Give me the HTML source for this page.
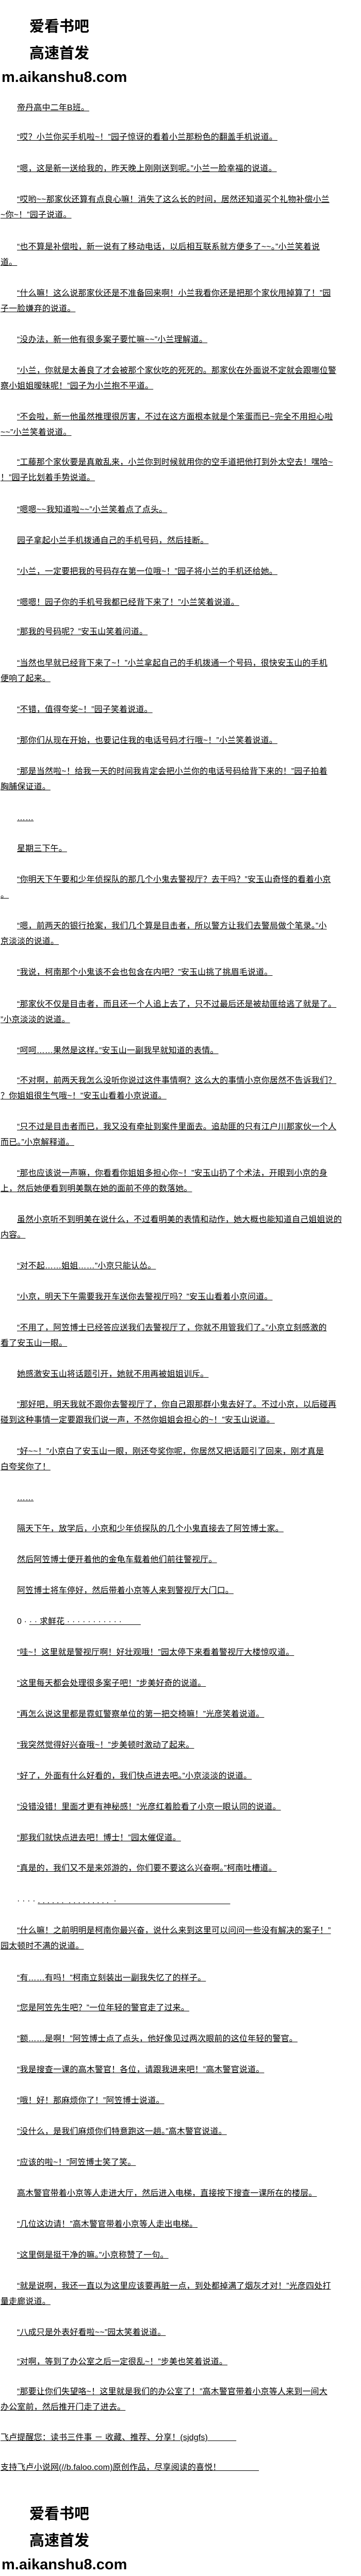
<!DOCTYPE html>
<html>
<head>
<meta charset="utf-8">
<style>
html,body{margin:0;padding:0;background:#fff;}
body{width:700px;height:5040px;position:relative;overflow:hidden;font-family:"Liberation Sans","Noto Sans CJK SC",sans-serif;color:#000;}
.p{position:absolute;left:1px;font-size:16px;line-height:30px;white-space:nowrap;text-decoration:underline;text-indent:32px;letter-spacing:0.15px;}
.n{text-indent:0;}
.h{position:absolute;left:57px;font-family:"Noto Sans CJK SC",sans-serif;font-weight:700;font-size:29px;line-height:34px;white-space:nowrap;}
.u{position:absolute;left:3px;font-family:"Liberation Sans",sans-serif;font-weight:700;font-size:29px;line-height:34px;white-space:nowrap;}
</style>
</head>
<body>
<div class="h" style="top:32px">爱看书吧</div>
<div class="h" style="top:84px">高速首发</div>
<div class="u" style="top:133px">m.aikanshu8.com</div>

<div class="p" style="top:195px">帝丹高中二年B班。</div>
<div class="p" style="top:252px">“哎？小兰你买手机啦~！”园子惊讶的看着小兰那粉色的翻盖手机说道。</div>
<div class="p" style="top:313px">“嗯，这是新一送给我的，昨天晚上刚刚送到呢。”小兰一脸幸福的说道。</div>
<div class="p" style="top:373px">“哎哟~~那家伙还算有点良心嘛！消失了这么长的时间，居然还知道买个礼物补偿小兰<br>~你~！”园子说道。</div>
<div class="p" style="top:465px">“也不算是补偿啦，新一说有了移动电话，以后相互联系就方便多了~~。”小兰笑着说<br>道。</div>
<div class="p" style="top:555px">“什么嘛！这么说那家伙还是不准备回来啊！小兰我看你还是把那个家伙甩掉算了！”园<br>子一脸嫌弃的说道。</div>
<div class="p" style="top:645px">“没办法，新一他有很多案子要忙嘛~~”小兰理解道。</div>
<div class="p" style="top:705px">“小兰，你就是太善良了才会被那个家伙吃的死死的。那家伙在外面说不定就会跟哪位警<br>察小姐姐暧昧呢！”园子为小兰抱不平道。</div>
<div class="p" style="top:795px">“不会啦，新一他虽然推理很厉害，不过在这方面根本就是个笨蛋而已~完全不用担心啦<br>~~”小兰笑着说道。</div>
<div class="p" style="top:883px">“工藤那个家伙要是真敢乱来，小兰你到时候就用你的空手道把他打到外太空去！嘿哈~<br>！”园子比划着手势说道。</div>
<div class="p" style="top:975px">“嗯嗯~~我知道啦~~”小兰笑着点了点头。</div>
<div class="p" style="top:1035px">园子拿起小兰手机拨通自己的手机号码，然后挂断。</div>
<div class="p" style="top:1095px">“小兰，一定要把我的号码存在第一位哦~！”园子将小兰的手机还给她。</div>
<div class="p" style="top:1155px">“嗯嗯！园子你的手机号我都已经背下来了！”小兰笑着说道。</div>
<div class="p" style="top:1212px">“那我的号码呢？”安玉山笑着问道。</div>
<div class="p" style="top:1273px">“当然也早就已经背下来了~！”小兰拿起自己的手机拨通一个号码，很快安玉山的手机<br>便响了起来。</div>
<div class="p" style="top:1363px">“不错，值得夸奖~！”园子笑着说道。</div>
<div class="p" style="top:1423px">“那你们从现在开始，也要记住我的电话号码才行哦~！”小兰笑着说道。</div>
<div class="p" style="top:1483px">“那是当然啦~！给我一天的时间我肯定会把小兰你的电话号码给背下来的！”园子拍着<br>胸脯保证道。</div>
<div class="p" style="top:1573px">……</div>
<div class="p" style="top:1633px">星期三下午。</div>
<div class="p" style="top:1693px">“你明天下午要和少年侦探队的那几个小鬼去警视厅？去干吗？”安玉山奇怪的看着小京<br>。</div>
<div class="p" style="top:1783px">“嗯，前两天的银行抢案，我们几个算是目击者，所以警方让我们去警局做个笔录。”小<br>京淡淡的说道。</div>
<div class="p" style="top:1873px">“我说，柯南那个小鬼该不会也包含在内吧？”安玉山挑了挑眉毛说道。</div>
<div class="p" style="top:1935px">“那家伙不仅是目击者，而且还一个人追上去了，只不过最后还是被劫匪给逃了就是了。<br>”小京淡淡的说道。</div>
<div class="p" style="top:2025px">“呵呵……果然是这样。”安玉山一副我早就知道的表情。</div>
<div class="p" style="top:2083px">“不对啊，前两天我怎么没听你说过这件事情啊？这么大的事情小京你居然不告诉我们？<br>？你姐姐很生气哦~！”安玉山看着小京说道。</div>
<div class="p" style="top:2173px">“只不过是目击者而已，我又没有牵扯到案件里面去。追劫匪的只有江户川那家伙一个人<br>而已。”小京解释道。</div>
<div class="p" style="top:2263px">“那也应该说一声嘛，你看看你姐姐多担心你~！”安玉山扔了个术法，开眼到小京的身<br>上，然后她便看到明美飘在她的面前不停的数落她。</div>
<div class="p" style="top:2353px">虽然小京听不到明美在说什么，不过看明美的表情和动作，她大概也能知道自己姐姐说的<br>内容。</div>
<div class="p" style="top:2443px">“对不起……姐姐……”小京只能认怂。</div>
<div class="p" style="top:2503px">“小京，明天下午需要我开车送你去警视厅吗？”安玉山看着小京问道。</div>
<div class="p" style="top:2563px">“不用了，阿笠博士已经答应送我们去警视厅了，你就不用管我们了。”小京立刻感激的<br>看了安玉山一眼。</div>
<div class="p" style="top:2653px">她感激安玉山将话题引开，她就不用再被姐姐训斥。</div>
<div class="p" style="top:2712px">“那好吧，明天我就不跟你去警视厅了，你自己跟那群小鬼去好了。不过小京，以后碰再<br>碰到这种事情一定要跟我们说一声，不然你姐姐会担心的~！”安玉山说道。</div>
<div class="p" style="top:2803px">“好~~！”小京白了安玉山一眼，刚还夸奖你呢，你居然又把话题引了回来，刚才真是<br>白夸奖你了！</div>
<div class="p" style="top:2893px">……</div>
<div class="p" style="top:2953px">隔天下午，放学后，小京和少年侦探队的几个小鬼直接去了阿笠博士家。</div>
<div class="p" style="top:3013px">然后阿笠博士便开着他的金龟车载着他们前往警视厅。</div>
<div class="p" style="top:3073px">阿笠博士将车停好，然后带着小京等人来到警视厅大门口。</div>
<div class="p" style="top:3133px;text-decoration:none">0 · <span style="text-decoration:underline">· · 求鲜花 · · · · · · · · · · · &nbsp; &nbsp; &nbsp; &nbsp;</span></div>
<div class="p" style="top:3193px">“哇~！这里就是警视厅啊！好壮观哦！”园太停下来看着警视厅大楼惊叹道。</div>
<div class="p" style="top:3253px">“这里每天都会处理很多案子吧！”步美好奇的说道。</div>
<div class="p" style="top:3313px">“再怎么说这里都是霓虹警察单位的第一把交椅嘛！”光彦笑着说道。</div>
<div class="p" style="top:3373px">“我突然觉得好兴奋哦~！”步美顿时激动了起来。</div>
<div class="p" style="top:3433px">“好了，外面有什么好看的，我们快点进去吧。”小京淡淡的说道。</div>
<div class="p" style="top:3493px">“没错没错！里面才更有神秘感！”光彦红着脸看了小京一眼认同的说道。</div>
<div class="p" style="top:3553px">“那我们就快点进去吧！博士！”园太催促道。</div>
<div class="p" style="top:3612px">“真是的，我们又不是来郊游的，你们要不要这么兴奋啊。”柯南吐槽道。</div>
<div class="p" style="top:3675px;text-decoration:none">· · · · <span style="text-decoration:underline">. . . . . . &nbsp;. . . . . . . . . &nbsp;· &nbsp; &nbsp; &nbsp; &nbsp; &nbsp; &nbsp; &nbsp; &nbsp; &nbsp; &nbsp; &nbsp; &nbsp; &nbsp; &nbsp; &nbsp; &nbsp; &nbsp; &nbsp; &nbsp; &nbsp; &nbsp; &nbsp; &nbsp; &nbsp;</span></div>
<div class="p" style="top:3733px">“什么嘛！之前明明是柯南你最兴奋，说什么来到这里可以问问一些没有解决的案子！”<br>园太顿时不满的说道。</div>
<div class="p" style="top:3825px">“有……有吗！”柯南立刻装出一副我失忆了的样子。</div>
<div class="p" style="top:3883px">“您是阿笠先生吧？”一位年轻的警官走了过来。</div>
<div class="p" style="top:3943px">“额……是啊！”阿笠博士点了点头，他好像见过两次眼前的这位年轻的警官。</div>
<div class="p" style="top:4003px">“我是搜查一课的高木警官！各位，请跟我进来吧！”高木警官说道。</div>
<div class="p" style="top:4063px">“哦！好！那麻烦你了！”阿笠博士说道。</div>
<div class="p" style="top:4123px">“没什么，是我们麻烦你们特意跑这一趟。”高木警官说道。</div>
<div class="p" style="top:4183px">“应该的啦~！”阿笠博士笑了笑。</div>
<div class="p" style="top:4243px">高木警官带着小京等人走进大厅，然后进入电梯，直接按下搜查一课所在的楼层。</div>
<div class="p" style="top:4303px">“几位这边请！”高木警官带着小京等人走出电梯。</div>
<div class="p" style="top:4363px">“这里倒是挺干净的嘛。”小京称赞了一句。</div>
<div class="p" style="top:4423px">“就是说啊，我还一直以为这里应该要再脏一点，到处都掉满了烟灰才对！”光彦四处打<br>量走廊说道。</div>
<div class="p" style="top:4513px">“八成只是外表好看啦~~”园太笑着说道。</div>
<div class="p" style="top:4570px">“对啊，等到了办公室之后一定很乱~！”步美也笑着说道。</div>
<div class="p" style="top:4628px">“那要让你们失望咯~！这里就是我们的办公室了！”高木警官带着小京等人来到一间大<br>办公室前，然后推开门走了进去。</div>
<div class="p n" style="top:4717px">飞卢提醒您：读书三件事 － 收藏、推荐、分享！(sjdgfs) &nbsp; &nbsp; &nbsp; &nbsp; &nbsp; &nbsp;</div>
<div class="p n" style="top:4775px">支持飞卢小说网(//b.faloo.com)原创作品，尽享阅读的喜悦！ &nbsp; &nbsp; &nbsp; &nbsp; &nbsp; &nbsp; &nbsp; &nbsp;</div>

<div class="h" style="top:4860px">爱看书吧</div>
<div class="h" style="top:4912px">高速首发</div>
<div class="u" style="top:4961px">m.aikanshu8.com</div>
</body>
</html>
